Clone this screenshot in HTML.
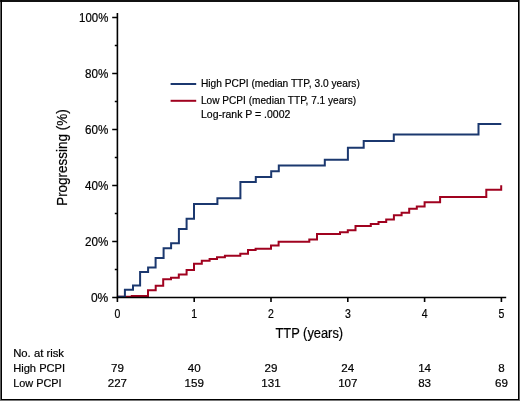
<!DOCTYPE html>
<html><head><meta charset="utf-8">
<style>
html,body{margin:0;padding:0;background:#fff;}
body{width:520px;height:401px;overflow:hidden;position:relative;}
svg{position:absolute;left:0;top:0;will-change:transform;}
text{font-family:"Liberation Sans",sans-serif;fill:#000;stroke:#000;stroke-width:0.2px;}
</style></head>
<body>
<svg width="520" height="401" viewBox="0 0 520 401">
<!-- frame -->
<rect x="0" y="0" width="520" height="401" fill="#fff"/>
<rect x="0" y="0" width="1" height="401" fill="#5e5e5e"/>
<rect x="519" y="0" width="1" height="401" fill="#666"/>
<rect x="0" y="400" width="520" height="1" fill="#777"/>
<rect x="0" y="0" width="519" height="2" fill="#111"/>
<rect x="1" y="0" width="1" height="400" fill="#000"/>
<rect x="518" y="0" width="1" height="400" fill="#000"/>
<rect x="1" y="399" width="518" height="1" fill="#000"/>

<!-- y tick labels -->
<g font-size="12.2" text-anchor="end">
<text x="108.3" y="21.75" textLength="29.2" lengthAdjust="spacingAndGlyphs">100%</text>
<text x="108.3" y="77.75" textLength="23.3" lengthAdjust="spacingAndGlyphs">80%</text>
<text x="108.3" y="133.75" textLength="23.3" lengthAdjust="spacingAndGlyphs">60%</text>
<text x="108.3" y="189.75" textLength="23.3" lengthAdjust="spacingAndGlyphs">40%</text>
<text x="108.3" y="245.75" textLength="23.3" lengthAdjust="spacingAndGlyphs">20%</text>
<text x="108.3" y="301.75" textLength="17.4" lengthAdjust="spacingAndGlyphs">0%</text>
</g>
<!-- x tick labels -->
<g font-size="12.2" text-anchor="middle">
<text x="117.4" y="317.8" textLength="5.85" lengthAdjust="spacingAndGlyphs">0</text>
<text x="194.2" y="317.8" textLength="5.85" lengthAdjust="spacingAndGlyphs">1</text>
<text x="271" y="317.8" textLength="5.85" lengthAdjust="spacingAndGlyphs">2</text>
<text x="347.8" y="317.8" textLength="5.85" lengthAdjust="spacingAndGlyphs">3</text>
<text x="424.6" y="317.8" textLength="5.85" lengthAdjust="spacingAndGlyphs">4</text>
<text x="501.4" y="317.8" textLength="5.85" lengthAdjust="spacingAndGlyphs">5</text>
</g>
<text x="309.3" y="337.7" font-size="13.8" text-anchor="middle" textLength="67.6" lengthAdjust="spacingAndGlyphs">TTP (years)</text>
<text transform="translate(66.6,157.6) rotate(-90)" font-size="14.8" text-anchor="middle" textLength="96.5" lengthAdjust="spacingAndGlyphs">Progressing (%)</text>

<!-- curves -->
<g fill="none" stroke-width="2" stroke-linejoin="miter" stroke-linecap="butt">
<path stroke="#a0021f" d="M117.4,296.85 H131.8 V295.95 H148 V290.15 H155.7 V285.85 H163.2 V279.35 H171 V277.75 H178.8 V274.55 H186.6 V270.05 H194 V263.85 H201.8 V260.85 H209.6 V259.05 H217 V257.15 H224.9 V255.65 H240.3 V253.85 H248 V250.05 H255.6 V248.65 H271 V245.45 H278.6 V241.65 H309.3 V239.45 H317 V234.05 H340 V232.15 H347.8 V230.15 H355.5 V226.05 H370.8 V224.05 H378.5 V222.05 H386.2 V219.45 H393.9 V215.35 H401.6 V212.85 H409.2 V208.65 H416.8 V206.55 H424.6 V202.15 H440.1 V196.95 H486.3 V189.85 H501.2 V185.25"/>
<path stroke="#1b386f" d="M117.4,296.85 H124.9 V289.65 H133 V285.45 H140.1 V272.05 H148.1 V267.45 H155.6 V257.95 H163.6 V248.25 H171.1 V243.25 H178.9 V228.95 H186.6 V218.65 H194 V204.05 H217.4 V198.35 H240.4 V181.95 H255.8 V176.95 H271.2 V171.35 H278.8 V165.55 H324.8 V159.85 H347.9 V147.75 H363.7 V141.05 H393.8 V134.55 H478.5 V123.95 H501.3"/>
</g>

<!-- axes -->
<g stroke="#000" stroke-width="1.6" fill="none">
<path d="M117.4,13 V298.3"/>
<path d="M116.6,297.5 H506.2"/>
<path d="M112.2,17.5 H117 M112.2,73.5 H117 M112.2,129.5 H117 M112.2,185.5 H117 M112.2,241.5 H117 M112.2,297.5 H117"/>
<path d="M114.8,45.5 H117 M114.8,101.5 H117 M114.8,157.5 H117 M114.8,213.5 H117 M114.8,269.5 H117"/>
<path d="M117.4,297.5 V302 M194.2,297.5 V302 M271,297.5 V302 M347.8,297.5 V302 M424.6,297.5 V302 M501.4,297.5 V302"/>
</g>

<!-- legend -->
<path d="M170.6,84 H196.2" stroke="#1b386f" stroke-width="2"/>
<path d="M170.6,100.8 H196.2" stroke="#a0021f" stroke-width="2"/>
<g font-size="11.2">
<text x="201" y="87.2" textLength="158.8" lengthAdjust="spacingAndGlyphs">High PCPI (median TTP, 3.0 years)</text>
<text x="201" y="104.1" textLength="155.1" lengthAdjust="spacingAndGlyphs">Low PCPI (median TTP, 7.1 years)</text>
<text x="201" y="118.1" textLength="89.3" lengthAdjust="spacingAndGlyphs">Log-rank P = .0002</text>
</g>

<!-- risk table -->
<g font-size="11">
<text x="13.2" y="357" textLength="50.8" lengthAdjust="spacingAndGlyphs">No. at risk</text>
<text x="13.2" y="372" textLength="51.9" lengthAdjust="spacingAndGlyphs">High PCPI</text>
<text x="13.2" y="387" textLength="48.4" lengthAdjust="spacingAndGlyphs">Low PCPI</text>
</g>
<g font-size="11.6" text-anchor="middle">
<text x="117.4" y="372">79</text>
<text x="194.2" y="372">40</text>
<text x="271" y="372">29</text>
<text x="347.8" y="372">24</text>
<text x="424.6" y="372">14</text>
<text x="501.4" y="372">8</text>
<text x="117.4" y="387">227</text>
<text x="194.2" y="387">159</text>
<text x="271" y="387">131</text>
<text x="347.8" y="387">107</text>
<text x="424.6" y="387">83</text>
<text x="501.4" y="387">69</text>
</g>
</svg>
</body></html>
